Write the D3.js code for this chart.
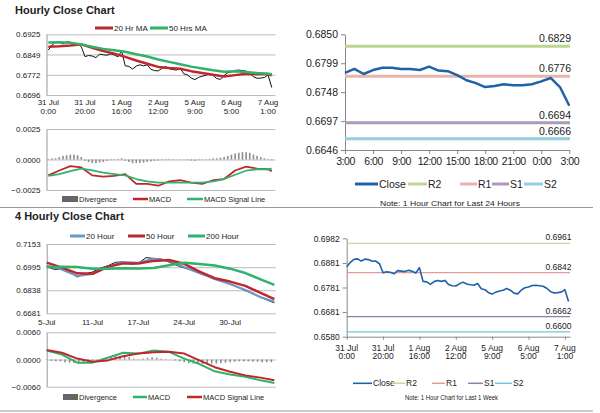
<!DOCTYPE html>
<meta charset="utf-8">
<head>
  <style>
    body { margin: 0; background: #fff; }
    text { font-family: "Liberation Sans", Arial, sans-serif; fill: #222; }
  </style>
  <script src="https://cdn.jsdelivr.net/npm/d3@7"></script>
</head>
<body>
<script>
// ---------- hourly chart (31 Jul 0:00 .. 7 Aug 3:00), hour index ----------
const hourTicks = [0, 20, 40, 60, 80, 100, 120];
const hourTickLabels = [["31 Jul","0:00"],["31 Jul","20:00"],["1 Aug","16:00"],["2 Aug","12:00"],["5 Aug","9:00"],["6 Aug","5:00"],["7 Aug","1:00"]];

// close, every 2 hours
const closeIdx = [0,2,4,6,8,10,12,14,16,18,20,22,24,26,28,30,32,34,36,38,40,42,44,46,48,50,52,54,56,58,60,
  62,64,66,68,70,72,74,76,78,80,82,84,86,88,90,92,94,96,98,100,102,104,106,108,110,112,114,116,118,120,122];
const hourlyClose = [0.6866,0.6884,0.6896,0.6898,0.6889,0.6897,0.6895,0.6888,0.6889,0.6878,0.6841,0.6845,0.6843,0.6837,0.6850,0.6848,
  0.6846,0.6851,0.6847,0.6840,0.6862,0.6806,0.6804,0.6794,0.6805,0.6810,0.6806,0.6810,0.6793,0.6788,0.6787,
  0.6796,0.6803,0.6795,0.6792,0.6790,0.6797,0.6776,0.6772,0.6760,0.6754,0.6762,0.6767,0.6770,0.6777,0.6770,
  0.6758,0.6755,0.6770,0.6780,0.6783,0.6789,0.6790,0.6788,0.6786,0.6778,0.6765,0.6759,0.6760,0.6762,0.6772,0.6724];

// moving averages + MACD, every 6 hours
const maIdx = [0,6,12,18,24,30,36,42,48,54,60,66,72,78,84,90,96,102,108,114,120,122];
const ma20Hr = [0.6878,0.6880,0.6883,0.6887,0.6874,0.6862,0.6852,0.6840,0.6826,0.6814,0.6802,0.6798,0.6795,0.6786,0.6779,0.6772,0.6766,0.6771,0.6776,0.6775,0.6775,0.6770];
const ma50Hr = [0.6894,0.6895,0.6893,0.6887,0.6878,0.6870,0.6865,0.6859,0.6850,0.6841,0.6830,0.6821,0.6812,0.6803,0.6796,0.6789,0.6784,0.6786,0.6783,0.6779,0.6776,0.6774];
const macdHr = [-0.0013,-0.0009,-0.00055,-0.00065,-0.0013,-0.0014,-0.00135,-0.0012,-0.0020,-0.0020,-0.00215,-0.0018,-0.0017,-0.0019,-0.0020,-0.0017,-0.0016,-0.0009,-0.00058,-0.00075,-0.0008,-0.00095];
const signalHr = [-0.00134,-0.0012,-0.00095,-0.00075,-0.0009,-0.00108,-0.0012,-0.0013,-0.0016,-0.0018,-0.0019,-0.0019,-0.0019,-0.0019,-0.0019,-0.0018,-0.0016,-0.00125,-0.00092,-0.0008,-0.0008,-0.00075];
// divergence, every 2 hours (same index as closeIdx)
const divergenceHr = [0.00005,0.0001,0.0001,0.0002,0.0003,0.00035,0.0004,0.0004,0.00035,0.0002,-0.0001,-0.0002,-0.0003,-0.0003,-0.00025,-0.0002,
  -0.0001,-0.00005,0.00003,0.00005,0.0001,-0.0001,-0.0002,-0.0003,-0.0003,-0.00028,-0.00025,-0.0002,-0.00015,-0.0001,-0.00008,
  -0.00005,0.00003,0.00005,0.00003,0.00002,0.00002,-0.00003,-0.00005,-0.00008,-0.0001,-0.00005,-0.00003,0.00003,0.00005,0.0001,
  0.0001,0.00015,0.0002,0.0003,0.0004,0.0005,0.00055,0.0006,0.0006,0.00055,0.0004,0.0003,0.0002,0.0001,0.00005,-0.00005];

// ---------- last 24 hours ----------
const dayLabels = ["3:00","6:00","9:00","12:00","15:00","18:00","21:00","0:00","3:00"];
const dayClose = [0.6782,0.6789,0.6780,0.6787,0.6791,0.6791,0.6789,0.6789,0.6787,0.6793,0.6786,0.6785,0.6778,
  0.6769,0.6764,0.6757,0.6759,0.6762,0.6760,0.6760,0.6762,0.6767,0.6773,0.6757,0.6724];
const dayLevelNames = ["R2","R1","S1","S2"];
const dayLevels = [0.6829, 0.6776, 0.6694, 0.6666];
const weekLevels = [0.6961, 0.6842, 0.6662, 0.6600];

// ---------- 4 hourly chart, bar index ----------
const fourTicks = [0, 30, 60, 90, 120];
const fourTickLabels = ["5-Jul","11-Jul","17-Jul","24-Jul","30-Jul"];
const fourMaIdx = [0,10,20,30,40,50,60,70,80,90,100,110,120,130,140,149];
const ma20Four = [0.7005,0.6980,0.6935,0.6950,0.7000,0.7030,0.7025,0.7052,0.7040,0.6995,0.6955,0.6915,0.6880,0.6840,0.6790,0.6760];
const ma50Four = [0.7026,0.6992,0.6953,0.6950,0.6998,0.7021,0.7020,0.7038,0.7044,0.7018,0.6965,0.6920,0.6897,0.6868,0.6820,0.6777];
const ma200Four = [0.6995,0.6998,0.6996,0.6985,0.6984,0.6988,0.6986,0.6990,0.7008,0.7025,0.7017,0.7007,0.6985,0.6955,0.6912,0.6874];
const macdFour = [0.0020,0.0011,-0.0007,-0.0007,0.0004,0.0015,0.0013,0.0020,0.0017,0.0002,-0.0010,-0.0026,-0.0033,-0.0038,-0.0046,-0.0052];
const signalFour = [0.0021,0.0015,0.0002,-0.0005,-0.0002,0.0007,0.0013,0.0016,0.0017,0.0013,-0.0002,-0.0017,-0.0027,-0.0035,-0.0040,-0.0046];
const fourCloseIdx = [0,5,10,15,20,25,30,35,40,45,50,55,60,65,70,75,80,85,90,95,100,105,110,115,120,125,130,135,140,145,149];
const fourClose = [0.7000,0.6980,0.6982,0.6962,0.6928,0.6950,0.6962,0.6988,0.7005,0.7028,0.7032,0.7015,0.7022,0.7060,0.7055,0.7050,
  0.7030,0.7008,0.6990,0.6975,0.6952,0.6935,0.6912,0.6898,0.6880,0.6860,0.6835,0.6818,0.6790,0.6768,0.6752];
const fourDivIdx = [0,3,6,9,12,15,18,21,24,27,30,33,36,39,42,45,48,51,54,57,60,63,66,69,72,75,78,81,84,87,90,93,96,99,102,105,108,111,114,117,120,123,126,129,132,135,138,141,144,147];
const divergenceFour = [-0.0001,-0.0003,-0.0004,-0.0004,-0.0006,-0.0007,-0.0008,-0.0009,-0.0009,-0.0008,-0.0004,-0.0001,0.0002,0.0005,0.0007,0.0008,0.0008,0.0007,0.0005,0.0002,
  0.0001,0.0002,0.0004,0.0005,0.0004,0.0002,0.0001,0.0000,-0.0002,-0.0004,-0.0006,-0.0008,-0.0009,-0.0009,-0.0010,-0.0010,-0.0009,-0.0009,-0.0008,-0.0007,
  -0.0006,-0.0005,-0.0004,-0.0004,-0.0004,-0.0005,-0.0005,-0.0006,-0.0006,-0.0006];

const RED = "#c0272d", GREEN = "#2fb26a", BLUE = "#6b96c8", DARKBLUE = "#1f62a6";
const dayLevelColors = ["#bcd58f", "#e8b3ae", "#a99bb9", "#93cfdc"];
const weekLevelColors = ["#c6d69a", "#e39a9a", "#8e7fa5", "#72c3df"];

const svg = d3.select("body").append("svg")
  .attr("width", 600).attr("height", 413);

// ---------- helpers ----------
function gridAxis(y, x0, x1, ticks, fmt, fs) {
  const g = svg.append("g").attr("transform", `translate(${x0},0)`)
    .call(d3.axisLeft(y).tickValues(ticks).tickFormat(fmt).tickSize(-(x1 - x0)).tickSizeOuter(0).tickPadding(6));
  g.select(".domain").attr("stroke", "#999");
  g.selectAll(".tick line").attr("stroke", "#bbb");
  g.selectAll(".tick text").attr("font-size", fs).attr("fill", "#333").attr("font-family", "Liberation Sans, Arial");
  return g;
}
function plainAxis(y, x0, ticks, fmt, fs) {
  const g = svg.append("g").attr("transform", `translate(${x0},0)`)
    .call(d3.axisLeft(y).tickValues(ticks).tickFormat(fmt).tickSize(4).tickSizeOuter(0).tickPadding(3));
  g.select(".domain").attr("stroke", "#888");
  g.selectAll(".tick line").attr("stroke", "#888");
  g.selectAll(".tick text").attr("font-size", fs).attr("fill", "#333").attr("font-family", "Liberation Sans, Arial");
  return g;
}
function lineOf(idx, vals, x, y, color, w) {
  svg.append("path")
    .datum(vals.map((v, i) => [idx[i], v]))
    .attr("fill", "none").attr("stroke", color).attr("stroke-width", w)
    .attr("stroke-linejoin", "round")
    .attr("d", d3.line().x(d => x(d[0])).y(d => y(d[1])));
}
function bars(idx, vals, x, y, w) {
  svg.append("g").selectAll("rect").data(vals).join("rect")
    .attr("x", (d, i) => x(idx[i]) - w / 2)
    .attr("y", d => y(Math.max(0, d)))
    .attr("width", w)
    .attr("height", d => Math.abs(y(d) - y(0)))
    .attr("fill", "#8c8c8c");
}
function legend(items, y, fs) {
  items.forEach(it => {
    if (it.type === "box") {
      svg.append("rect").attr("x", it.x0).attr("y", y - 3).attr("width", it.x1 - it.x0).attr("height", 6).attr("fill", it.color);
    } else {
      svg.append("line").attr("x1", it.x0).attr("x2", it.x1).attr("y1", y).attr("y2", y)
        .attr("stroke", it.color).attr("stroke-width", it.w);
    }
    svg.append("text").attr("x", it.x1 + 1).attr("y", y).attr("dy", "0.35em")
      .attr("font-size", fs).text(it.label);
  });
}
function twoLineX(x, ticks, labels, y1, y2, fs) {
  ticks.forEach((t, i) => {
    const t1 = svg.append("text").attr("x", x(t)).attr("text-anchor", "middle").attr("font-size", fs);
    t1.append("tspan").attr("x", x(t)).attr("y", y1).text(labels[i][0]);
    t1.append("tspan").attr("x", x(t)).attr("y", y2).text(labels[i][1]);
  });
}

// ---------- titles and separators ----------
svg.append("text").attr("x", 15).attr("y", 14).attr("font-size", 11).attr("font-weight", "bold").text("Hourly Close Chart");
svg.append("text").attr("x", 15).attr("y", 220).attr("font-size", 11).attr("font-weight", "bold").text("4 Hourly Close Chart");
[207.5, 411].forEach(yy => svg.append("line").attr("x1", 0).attr("x2", 593).attr("y1", yy).attr("y2", yy)
  .attr("stroke", "#9a9a9a").attr("stroke-width", 1));

// ---------- top-left: hourly price ----------
const xH = d3.scaleLinear().domain([-1, 124]).range([46.5, 275.4]);
const yH = d3.scaleLinear().domain([0.6696, 0.6925]).range([95, 34.3]);
gridAxis(yH, 46.5, 275.4, [0.6925, 0.6849, 0.6772, 0.6696], d3.format(".4f"), 8);
lineOf(closeIdx, hourlyClose, xH, yH, "#111", 1);
lineOf(maIdx, ma20Hr, xH, yH, RED, 2.5);
lineOf(maIdx, ma50Hr, xH, yH, GREEN, 2.5);
twoLineX(xH, hourTicks, hourTickLabels, 105, 114, 8);
legend([
  {x0: 95, x1: 113, color: RED, w: 3, label: "20 Hr MA"},
  {x0: 150, x1: 168, color: GREEN, w: 3, label: "50 Hrs MA"}
], 28, 8);

// ---------- top-left: hourly MACD ----------
const yHm = d3.scaleLinear().domain([-0.0025, 0.0025]).range([190, 129]);
gridAxis(yHm, 46.5, 275.4, [0.0025, 0, -0.0025], d3.format(".4f"), 8);
bars(closeIdx, divergenceHr, xH, yHm, 1.6);
lineOf(maIdx, macdHr, xH, yHm, RED, 1.8);
lineOf(maIdx, signalHr, xH, yHm, GREEN, 1.8);
legend([
  {type: "box", x0: 62, x1: 78, color: "#666", label: "Divergence"},
  {x0: 133, x1: 148, color: RED, w: 2.5, label: "MACD"},
  {x0: 187, x1: 203, color: GREEN, w: 2.5, label: "MACD Signal Line"}
], 199, 7.5);

// ---------- top-right: last 24 hours ----------
const xD = d3.scaleLinear().domain([0, 24]).range([345, 569.3]);
const yD = d3.scaleLinear().domain([0.6646, 0.6850]).range([150, 34.3]);
plainAxis(yD, 345, [0.6850, 0.6799, 0.6748, 0.6697, 0.6646], d3.format(".4f"), 10.5);
const xDax = svg.append("g").attr("transform", "translate(0,150)")
  .call(d3.axisBottom(xD).tickValues(d3.range(0, 25, 3)).tickFormat((d, i) => dayLabels[i]).tickSize(4).tickSizeOuter(0).tickPadding(4));
xDax.select(".domain").attr("stroke", "#888");
xDax.selectAll(".tick line").attr("stroke", "#888");
xDax.selectAll(".tick text").attr("font-size", 10.5).attr("letter-spacing", "-0.5px").attr("fill", "#333").attr("font-family", "Liberation Sans, Arial");
dayLevels.forEach((v, i) => {
  svg.append("line").attr("x1", 345).attr("x2", 570).attr("y1", yD(v)).attr("y2", yD(v))
    .attr("stroke", dayLevelColors[i]).attr("stroke-width", 3);
  svg.append("text").attr("x", 571).attr("y", yD(v) - 4).attr("text-anchor", "end")
    .attr("font-size", 10.5).text(d3.format(".4f")(v));
});
lineOf(d3.range(0, 25), dayClose, xD, yD, DARKBLUE, 2.5);
legend([
  {x0: 355, x1: 378, color: DARKBLUE, w: 3, label: "Close"},
  {x0: 408, x1: 427, color: dayLevelColors[0], w: 3, label: dayLevelNames[0]},
  {x0: 460, x1: 477, color: dayLevelColors[1], w: 3, label: dayLevelNames[1]},
  {x0: 492, x1: 509, color: dayLevelColors[2], w: 3, label: dayLevelNames[2]},
  {x0: 524, x1: 543, color: dayLevelColors[3], w: 3, label: dayLevelNames[3]}
], 184, 10.5);
svg.append("text").attr("x", 380).attr("y", 206).attr("font-size", 8)
  .attr("textLength", 140).attr("lengthAdjust", "spacingAndGlyphs")
  .text("Note: 1 Hour Chart for Last 24 Hours");

// ---------- bottom-left: 4 hourly price ----------
const xF = d3.scaleLinear().domain([0, 150]).range([46.7, 275.9]);
const yF = d3.scaleLinear().domain([0.6681, 0.7153]).range([313.3, 244]);
gridAxis(yF, 46.7, 275.9, [0.7153, 0.6995, 0.6838, 0.6681], d3.format(".4f"), 8);
lineOf(fourCloseIdx, fourClose, xF, yF, "#111", 1);
lineOf(fourMaIdx, ma20Four, xF, yF, BLUE, 2.2);
lineOf(fourMaIdx, ma50Four, xF, yF, RED, 2.5);
lineOf(fourMaIdx, ma200Four, xF, yF, GREEN, 2.5);
fourTicks.forEach((t, i) => svg.append("text").attr("x", xF(t)).attr("y", 325)
  .attr("text-anchor", "middle").attr("font-size", 8).text(fourTickLabels[i]));
legend([
  {x0: 70, x1: 85, color: BLUE, w: 3, label: "20 Hour"},
  {x0: 128, x1: 145, color: RED, w: 3, label: "50 Hour"},
  {x0: 188, x1: 205, color: GREEN, w: 3, label: "200 Hour"}
], 236, 8);

// ---------- bottom-left: 4 hourly MACD ----------
const yFm = d3.scaleLinear().domain([-0.006, 0.006]).range([386.7, 332.3]);
gridAxis(yFm, 46.7, 275.9, [0.006, 0, -0.006], d3.format(".4f"), 8);
bars(fourDivIdx, divergenceFour, xF, yFm, 1.6);
lineOf(fourMaIdx, macdFour, xF, yFm, GREEN, 2);
lineOf(fourMaIdx, signalFour, xF, yFm, RED, 2);
legend([
  {type: "box", x0: 63, x1: 78, color: "#666", label: "Divergence"},
  {x0: 133, x1: 147, color: GREEN, w: 2.5, label: "MACD"},
  {x0: 187, x1: 202, color: RED, w: 2.5, label: "MACD Signal Line"}
], 397, 7.5);

// ---------- bottom-right: last week ----------
const xW = d3.scaleLinear().domain([0, 122.8]).range([346.7, 570]);
const yW = d3.scaleLinear().domain([0.6580, 0.6982]).range([336.7, 238.3]);
plainAxis(yW, 346.7, [0.6982, 0.6881, 0.6781, 0.6681, 0.6580], d3.format(".4f"), 8.5);
const xWax = svg.append("g").attr("transform", "translate(0,336.7)")
  .call(d3.axisBottom(xW).tickValues(hourTicks).tickFormat("").tickSize(3).tickSizeOuter(0));
xWax.select(".domain").attr("stroke", "#888");
xWax.selectAll(".tick line").attr("stroke", "#888");
twoLineX(xW, hourTicks, hourTickLabels, 350.5, 359, 8.5);
weekLevels.forEach((v, i) => {
  svg.append("line").attr("x1", 346.7).attr("x2", 570).attr("y1", yW(v)).attr("y2", yW(v))
    .attr("stroke", weekLevelColors[i]).attr("stroke-width", 1.2);
  svg.append("text").attr("x", 571.5).attr("y", yW(v) - 3).attr("text-anchor", "end")
    .attr("font-size", 8.5).text(d3.format(".4f")(v));
});
lineOf(closeIdx, hourlyClose, xW, yW, DARKBLUE, 1.6);
legend([
  {x0: 353, x1: 372, color: DARKBLUE, w: 1.6, label: "Close"},
  {x0: 392, x1: 405, color: weekLevelColors[0], w: 1.5, label: dayLevelNames[0]},
  {x0: 432, x1: 445, color: weekLevelColors[1], w: 1.5, label: dayLevelNames[1]},
  {x0: 468, x1: 483, color: weekLevelColors[2], w: 1.5, label: dayLevelNames[2]},
  {x0: 495, x1: 512, color: weekLevelColors[3], w: 1.5, label: dayLevelNames[3]}
], 383.3, 8.5);
svg.append("text").attr("x", 405).attr("y", 400).attr("font-size", 7)
  .attr("textLength", 93).attr("lengthAdjust", "spacingAndGlyphs")
  .text("Note: 1 Hour Chart for Last 1 Week");
</script>
</body>
</html>
